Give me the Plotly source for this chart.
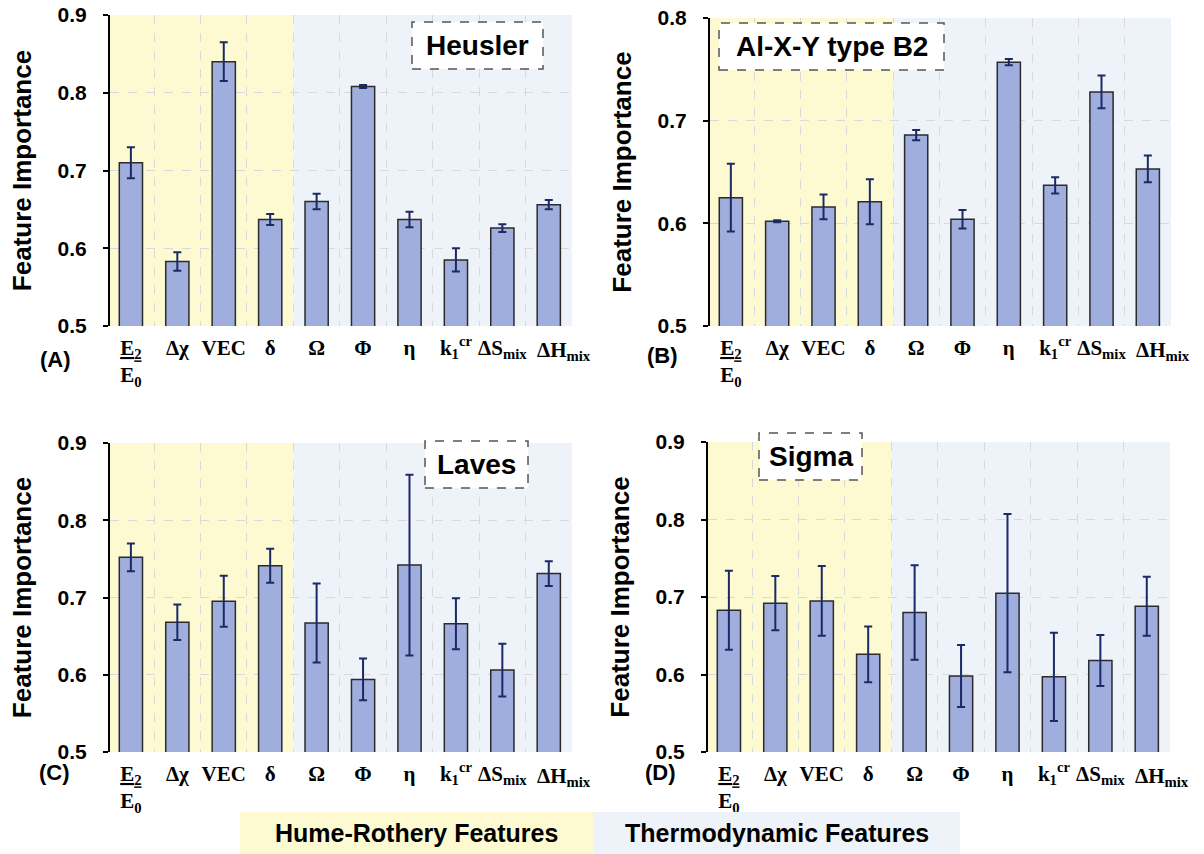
import plotly.graph_objects as go

W, H = 1204, 854

features = ["E2/E0", "dchi", "VEC", "delta", "Omega", "Phi", "eta", "k1cr", "dSmix", "dHmix"]
tick_labels = ["<u>E<sub>2</sub></u><br>E<sub>0</sub>", "Δχ", "VEC", "δ", "Ω", "Φ", "η",
               "k<sub>1</sub><sup>cr</sup>", "ΔS<sub>mix</sub>", "ΔH<sub>mix</sub>"]
# the last label sits a little right of its bar in the reference, so it is drawn as an annotation
shifted_label = len(features) - 1

heusler_mean = [0.710, 0.583, 0.840, 0.637, 0.660, 0.808, 0.637, 0.585, 0.626, 0.656]
heusler_err = [0.020, 0.012, 0.025, 0.007, 0.010, 0.002, 0.010, 0.015, 0.005, 0.006]

b2_mean = [0.625, 0.602, 0.616, 0.621, 0.686, 0.604, 0.757, 0.637, 0.728, 0.653]
b2_err = [0.033, 0.001, 0.012, 0.022, 0.005, 0.009, 0.003, 0.008, 0.016, 0.013]

laves_mean = [0.752, 0.668, 0.695, 0.741, 0.667, 0.594, 0.742, 0.666, 0.606, 0.731]
laves_err = [0.018, 0.023, 0.033, 0.022, 0.051, 0.027, 0.117, 0.033, 0.034, 0.016]

sigma_mean = [0.683, 0.692, 0.695, 0.626, 0.680, 0.598, 0.705, 0.597, 0.618, 0.688]
sigma_err = [0.051, 0.035, 0.045, 0.036, 0.061, 0.040, 0.102, 0.057, 0.033, 0.038]

panel_names = ["Heusler", "Al-X-Y type B2", "Laves", "Sigma"]
panel_letters = ["(A)", "(B)", "(C)", "(D)"]
y_ranges = [[0.5, 0.9], [0.5, 0.8], [0.5, 0.9], [0.5, 0.9]]
y_ticks = [[0.5, 0.6, 0.7, 0.8, 0.9], [0.5, 0.6, 0.7, 0.8], [0.5, 0.6, 0.7, 0.8, 0.9], [0.5, 0.6, 0.7, 0.8, 0.9]]
n_hume = 4  # first four features are Hume-Rothery
legend_labels = ["Hume-Rothery Features", "Thermodynamic Features"]

means = [heusler_mean, b2_mean, laves_mean, sigma_mean]
errs = [heusler_err, b2_err, laves_err, sigma_err]

# layout geometry (screen pixels)
px_dom = [(110, 572, 15, 326), (710, 1171, 18, 326), (110, 572, 443, 752), (708, 1170, 442, 752)]
box_px = [(412, 22, 543, 69), (719, 23, 944, 70), (425, 441, 528, 488), (759, 433, 862, 480)]
letter_px = [(55, 359), (662, 355), (54, 772), (660, 772)]

YELLOW = "#fdfad2"
BLUE = "#eef2f9"
BAR = "#a0aedd"
ERR = "#1b2a66"
TICKFONT = dict(family="Liberation Serif", size=21, color="black")


def fx(p):
    return p / W


def fy(p):
    return 1 - p / H


fig = go.Figure()
shapes = []
annotations = []

for i in range(4):
    xa = "x" if i == 0 else f"x{i+1}"
    ya = "y" if i == 0 else f"y{i+1}"
    fig.add_trace(go.Bar(
        x=features, y=means[i], xaxis=xa, yaxis=ya, width=0.5,
        marker=dict(color=BAR, line=dict(color="#2b2b2b", width=1.5)),
        error_y=dict(type="data", array=errs[i], color=ERR, thickness=2, width=4),
        showlegend=False,
    ))
    x0, x1, y0, y1 = px_dom[i]
    axkey = "xaxis" if i == 0 else f"xaxis{i+1}"
    aykey = "yaxis" if i == 0 else f"yaxis{i+1}"
    texts = [f"<b>{t}</b>" if k != shifted_label else "" for k, t in enumerate(tick_labels)]
    fig.layout[axkey] = dict(
        domain=[fx(x0), fx(x1)], anchor=ya, type="category", automargin=False,
        range=[-0.45, len(features) - 0.5],
        tickvals=features, ticktext=texts, tickson="boundaries",
        tickangle=0, ticklabelstandoff=7,
        ticks="", showline=False, showgrid=True, gridcolor="#d9d9d9", griddash="dash",
        tickfont=TICKFONT, zeroline=False,
    )
    annotations.append(dict(xref=xa, yref=f"{ya} domain", x=features[shifted_label], y=0,
                            xshift=15, yshift=-25, text=f"<b>{tick_labels[shifted_label]}</b>",
                            showarrow=False, font=TICKFONT, xanchor="center", yanchor="middle"))
    fig.layout[aykey] = dict(
        domain=[fy(y1), fy(y0)], anchor=xa, range=y_ranges[i], automargin=False,
        tickvals=y_ticks[i], ticktext=[f"<b>{v:.1f}</b>" for v in y_ticks[i]],
        ticks="outside", ticklen=5, tickwidth=2, tickcolor="black", ticklabelstandoff=12,
        ticklabeloverflow="allow",
        showline=True, linecolor="black", linewidth=2,
        showgrid=True, gridcolor="#d9d9d9", griddash="dash", zeroline=False,
        tickfont=dict(family="Liberation Sans", size=21, color="black"),
        title=dict(text="<b>Feature Importance</b>", standoff=18,
                   font=dict(family="Liberation Sans", size=26, color="black")),
    )
    # background regions
    shapes.append(dict(type="rect", xref=xa, yref=f"{ya} domain", x0=-0.5, x1=n_hume - 0.5,
                       y0=0, y1=1, fillcolor=YELLOW, line=dict(width=0), layer="below"))
    shapes.append(dict(type="rect", xref=xa, yref=f"{ya} domain", x0=n_hume - 0.5,
                       x1=len(features) - 0.5, y0=0, y1=1, fillcolor=BLUE,
                       line=dict(width=0), layer="below"))
    # name box
    bx0, by0, bx1, by1 = box_px[i]
    shapes.append(dict(type="rect", xref="paper", yref="paper", x0=fx(bx0), x1=fx(bx1),
                       y0=fy(by1), y1=fy(by0), fillcolor="white",
                       line=dict(color="#555555", width=1.5, dash="dash")))
    annotations.append(dict(xref="paper", yref="paper", x=fx((bx0 + bx1) / 2), y=fy((by0 + by1) / 2),
                            text=f"<b>{panel_names[i]}</b>", showarrow=False,
                            font=dict(family="Liberation Sans", size=28, color="black"),
                            xanchor="center", yanchor="middle"))
    lx, ly = letter_px[i]
    annotations.append(dict(xref="paper", yref="paper", x=fx(lx), y=fy(ly),
                            text=f"<b>{panel_letters[i]}</b>", showarrow=False,
                            font=dict(family="Liberation Sans", size=22, color="black"),
                            xanchor="center", yanchor="middle"))

# bottom legend
leg = [(240, 593, YELLOW), (593, 960, BLUE)]
for (lx0, lx1, col), lab in zip(leg, legend_labels):
    shapes.append(dict(type="rect", xref="paper", yref="paper", x0=fx(lx0), x1=fx(lx1),
                       y0=fy(854), y1=fy(812), fillcolor=col, line=dict(width=0)))
    annotations.append(dict(xref="paper", yref="paper", x=fx((lx0 + lx1) / 2), y=fy(833),
                            text=f"<b>{lab}</b>", showarrow=False,
                            font=dict(family="Liberation Sans", size=25, color="black"),
                            xanchor="center", yanchor="middle"))

fig.update_layout(
    width=W, height=H, margin=dict(l=0, r=0, t=0, b=0),
    paper_bgcolor="white", plot_bgcolor="white",
    shapes=shapes, annotations=annotations, bargap=0.5,
)

# remove the default 8px page margin so the figure fills the window exactly
fig.write_html("out.html", config={"displayModeBar": False},
               post_script="document.body.style.margin='0';")
